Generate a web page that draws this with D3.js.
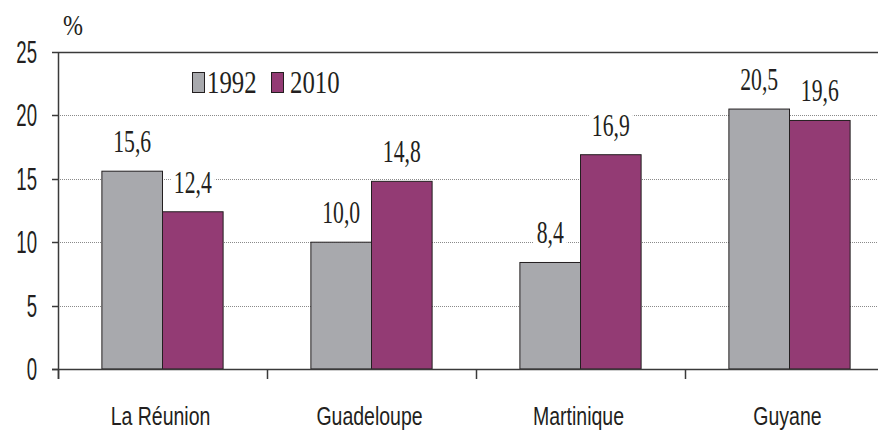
<!DOCTYPE html>
<html>
<head>
<meta charset="utf-8">
<script src="https://cdn.jsdelivr.net/npm/d3@7"></script>
<style>
  body { margin: 0; background: #fff; }
  svg { display: block; }
  .serif { font-family: "Liberation Serif", "Times New Roman", Times, serif; }
  .sans { font-family: "Liberation Sans", Arial, Helvetica, sans-serif; }
</style>
</head>
<body>
<script>
// chart data
var regions = ["La Réunion", "Guadeloupe", "Martinique", "Guyane"];
var years = ["1992", "2010"];
var values1992 = [15.6, 10.0, 8.4, 20.5];
var values2010 = [12.4, 14.8, 16.9, 19.6];
var yTicks = [0, 5, 10, 15, 20, 25];

var w = 878;
var h = 430;

var colors = {"1992": "#a8a9ad", "2010": "#933b74"};

var svg = d3.select("body")
            .append("svg")
            .attr("width", w)
            .attr("height", h);

// scales, the plot runs a bit past the right edge like the original
var x0 = d3.scaleBand()
           .domain(regions)
           .range([58, 894])
           .paddingInner(0.42)
           .paddingOuter(0.21);

var x1 = d3.scaleBand()
           .domain(years)
           .range([0, x0.bandwidth()]);

var y = d3.scaleLinear()
          .domain([0, 25])
          .range([369, 52]);

var step = x0.step();

// helper for condensed text
function squeezed(parent, tx, ty, sx, txt, cls, size, anchor) {
  return parent.append("text")
               .attr("class", cls)
               .attr("transform", "translate(" + tx + "," + ty + ") scale(" + sx + ",1)")
               .style("font-size", size + "px")
               .attr("text-anchor", anchor)
               .attr("fill", "#231f20")
               .text(txt);
}

// grid lines
svg.append("g")
   .selectAll("line")
   .data(yTicks.filter(function(d) { return d > 0 && d < 25; }))
   .enter()
   .append("line")
   .attr("x1", 58)
   .attr("x2", w)
   .attr("y1", function(d) { return Math.round(y(d)) + 0.5; })
   .attr("y2", function(d) { return Math.round(y(d)) + 0.5; })
   .attr("stroke", "#8a8a8a")
   .attr("stroke-width", 1)
   .attr("stroke-dasharray", "1,1");

// top border at 25
svg.append("line")
   .attr("x1", 58)
   .attr("x2", w)
   .attr("y1", Math.round(y(25)) + 0.5)
   .attr("y2", Math.round(y(25)) + 0.5)
   .attr("stroke", "#3a3a3a")
   .attr("stroke-width", 1.5);

// build rows
var rows = regions.map(function(r, i) {
  return {region: r, vals: [
    {year: "1992", v: values1992[i]},
    {year: "2010", v: values2010[i]}
  ]};
});

var groups = svg.selectAll(".grp")
                .data(rows)
                .enter()
                .append("g")
                .attr("class", "grp")
                .attr("transform", function(d) {
                  return "translate(" + x0(d.region) + ",0)";
                });

groups.selectAll("rect")
      .data(function(d) { return d.vals; })
      .enter()
      .append("rect")
      .attr("x", function(d) { return x1(d.year); })
      .attr("y", function(d) { return y(d.v); })
      .attr("width", x1.bandwidth())
      .attr("height", function(d) { return y(0) - y(d.v); })
      .attr("fill", function(d) { return colors[d.year]; })
      .attr("stroke", "#231f20")
      .attr("stroke-width", 1);

// value labels with white boxes
groups.each(function(row) {
  var g = d3.select(this);
  row.vals.forEach(function(d) {
    var cx = x1(d.year) + x1.bandwidth() / 2;
    var by = y(d.v) - 19;
    var box = g.append("rect").attr("fill", "#fff");
    var t = squeezed(g, cx, by, 0.7, d3.format(".1f")(d.v).replace(".", ","), "serif", 31, "middle");
    var bw = t.node().getBBox().width * 0.7 + 6;
    box.attr("x", cx - bw / 2)
       .attr("y", by - 25)
       .attr("width", bw)
       .attr("height", 29);
  });
});

// y axis
svg.append("line")
   .attr("x1", 58.5).attr("x2", 58.5)
   .attr("y1", y(25)).attr("y2", y(0) + 10)
   .attr("stroke", "#3a3a3a")
   .attr("stroke-width", 1.5);

svg.append("g")
   .selectAll("line")
   .data(yTicks)
   .enter()
   .append("line")
   .attr("x1", 52).attr("x2", 58)
   .attr("y1", function(d) { return Math.round(y(d)) + 0.5; })
   .attr("y2", function(d) { return Math.round(y(d)) + 0.5; })
   .attr("stroke", "#3a3a3a")
   .attr("stroke-width", 1.5);

var yLab = svg.append("g");
yTicks.forEach(function(d) {
  squeezed(yLab, 37, y(d) + 11, 0.6, d, "sans", 31, "end");
});

// x axis
svg.append("line")
   .attr("x1", 52).attr("x2", w)
   .attr("y1", Math.round(y(0)) + 0.5).attr("y2", Math.round(y(0)) + 0.5)
   .attr("stroke", "#3a3a3a")
   .attr("stroke-width", 1.5);

svg.append("g")
   .selectAll("line")
   .data(regions)
   .enter()
   .append("line")
   .attr("x1", function(d) { return Math.round(x0(d) - step * 0.21) + 0.5; })
   .attr("x2", function(d) { return Math.round(x0(d) - step * 0.21) + 0.5; })
   .attr("y1", y(0))
   .attr("y2", y(0) + 10)
   .attr("stroke", "#3a3a3a")
   .attr("stroke-width", 1.5);

var xLab = svg.append("g");
regions.forEach(function(d) {
  squeezed(xLab, x0(d) + x0.bandwidth() / 2 - 2, 425, 0.78, d, "sans", 25, "middle");
});

// unit
squeezed(svg, 63, 35, 0.8, "%", "serif", 30, "start");

// legend
var legend = svg.append("g");
var legX = [192, 271];
var legTextX = [207, 290];
years.forEach(function(yr, i) {
  legend.append("rect")
        .attr("x", legX[i] + 0.5)
        .attr("y", 72.5)
        .attr("width", 12)
        .attr("height", 20)
        .attr("fill", colors[yr])
        .attr("stroke", "#231f20")
        .attr("stroke-width", 1);
  squeezed(legend, legTextX[i], 93, 0.8, yr, "serif", 31, "start");
});
</script>
</body>
</html>
